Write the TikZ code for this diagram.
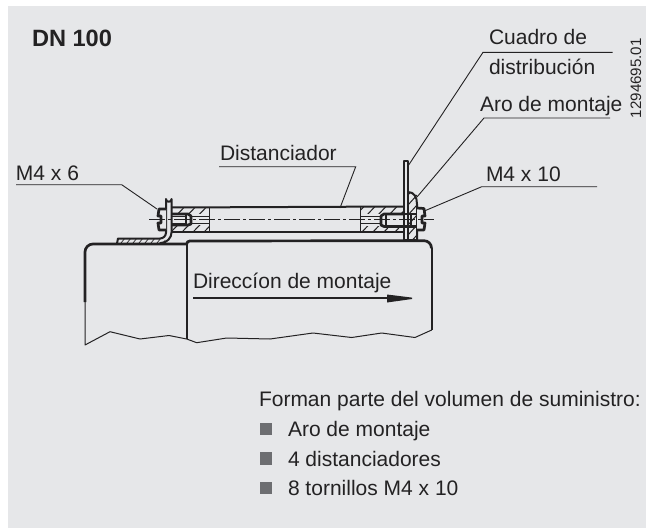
\documentclass[tikz,border=0pt]{standalone}
\usepackage{fontspec}
\setmainfont{Liberation Sans}
\definecolor{bg}{HTML}{E6E7E9}
\definecolor{ink}{HTML}{232223}
\definecolor{bul}{HTML}{6D6E71}
\newcommand{\fs}{\fontsize{21}{24}\selectfont}
\tikzset{
 lbl/.style={anchor=base west,inner sep=0pt,outer sep=0pt,text=ink,font=\fs},
 leader/.style={draw=ink,line width=0.9pt},
 thick line/.style={draw=ink,line width=2.7pt,line join=round},
 med line/.style={draw=ink,line width=2pt,line join=round},
 thin line/.style={draw=ink,line width=1pt,line join=round},
 hatch/.style={draw=ink,line width=1pt},
 bullet/.style={fill=bul,draw=none,minimum width=12.5pt,minimum height=12.5pt,inner sep=0pt,anchor=north west},
}
\begin{document}
\begin{tikzpicture}[x=1pt,y=-1pt]
\useasboundingbox (0,0) rectangle (646,528);
\fill[white] (0,0) rectangle (646,528);
\fill[bg] (8,6) rectangle (646,528);
% bodies
\draw[thin line] (85,302) -- (85,345) -- (110,331.7) -- (140,339) -- (169,335.5) -- (186.7,339) -- (196.7,342.7) -- (226.7,338) -- (270,339) -- (313,333) -- (351.7,337.5) -- (381.7,333) -- (415,337.5) -- (431.7,330);
\draw[thick line] (85,302) -- (85,252) arc[start angle=180,end angle=270,radius=8] -- (186.7,244);
\draw[med line] (186.7,339) -- (186.7,244);
\draw[thick line] (186.7,244) arc[start angle=180,end angle=270,radius=3] -- (424,240.7) arc[start angle=-90,end angle=0,radius=7.5];
\draw[med line] (431.5,248.2) -- (431.5,330);
% left bracket hatching
\begin{scope}
\clip (117,238) rectangle (165,243);
\foreach \x in {115,121,...,170} \draw[hatch,line width=.7pt] (\x,243) -- (\x+4,238);
\end{scope}
% spacer hatching left
\begin{scope}
\clip (172,207.5) rectangle (209,232);
\foreach \x in {160,171,...,230} \draw[hatch] (\x,232) -- (\x+24,207.5);
\fill[bg] (171,214) rectangle (210,225);
\end{scope}
% spacer hatching right
\begin{scope}
\clip (360,206.5) rectangle (403,232);
\foreach \x in {340,351,...,410} \draw[hatch] (\x,232) -- (\x+24,206.5);
\fill[bg] (360,214) rectangle (403,226);
\end{scope}
% ring hatching
\begin{scope}
\clip (408,192) rectangle (417,240);
\foreach \y in {195,205,...,255} \draw[hatch] (408,\y) -- (417,\y-10);
\end{scope}
% spacer lines
\draw[med line] (171,207.5) -- (403,206.5);
\draw[med line] (171,232) -- (403,232);
\draw[thin line] (209,207.5) -- (209,232);
\draw[thin line] (360,206.5) -- (360,232);
% left bracket
\draw[med line] (117,243.5) -- (118,238.5) -- (160,238.5) arc[start angle=90,end angle=0,radius=6] -- (166,199) arc[start angle=180,end angle=0,radius=2.8] -- (171.6,232) arc[start angle=0,end angle=90,radius=11] -- (160,243.5);
% left screw
\draw[thick line,fill=bg] (166,209) -- (159,209) -- (158,216) -- (161,216) -- (161,223) -- (158,223) -- (159,230) -- (166,230);
\draw[thick line] (172,214) -- (188,214) -- (191,216) -- (191,224) -- (188,225) -- (172,225);
\draw[med line] (186,214) -- (186,225);
\draw[thin line] (191,216.5) -- (209,216.5);
\draw[thin line] (191,223) -- (209,223);
\draw[thin line] (171,216) -- (186,216);
\draw[thin line] (171,223) -- (186,223);
% right plate and ring
\draw[med line] (403.5,240) -- (403.5,161) -- (408,161) -- (408,240);
\draw[med line] (408,192) .. controls (414,192) and (417,197) .. (417,204) -- (417,240);
\draw[med line] (403,240) -- (417,240);
% right screw
\draw[thick line] (403,214) -- (384,214) -- (381,216) -- (381,225) -- (384,226.5) -- (417,226.5);
\draw[thick line] (384,214) -- (417,214);
\draw[med line] (386,214) -- (386,226);
\draw[med line] (411,214) -- (411,226);
\draw[thin line] (360,216.5) -- (381,216.5);
\draw[thin line] (360,223.5) -- (381,223.5);
\draw[thick line,fill=bg] (417,208) -- (424,208.5) -- (425,216) -- (422,216) -- (422,223) -- (425,223) -- (424,230) -- (417,230);
% centre line
\draw[thin line,dash pattern=on 16pt off 3pt on 3pt off 3pt] (149,219.5) -- (434,219.5);
% arrow
\coordinate (arrA) at (193,298.3);
\coordinate (arrB) at (387,298.3);
\draw[draw=ink,line width=2.2pt] (arrA) -- (arrB);
\fill[ink] (387,294.5) -- (412,297.6) -- (412,299) -- (387,302.5) -- cycle;
% labels
\node[lbl,font=\bfseries\fontsize{23.6}{26}\selectfont] (dn) at (32,46) {DN 100};
\node[lbl] (cuadro) at (489,44) {Cuadro de};
\node[lbl] (dist) at (489,74) {distribución};
\node[lbl] (aro) at (480,111) {Aro de montaje};
\node[lbl] (m10) at (486,181.7) {M4 x 10};
\node[lbl] (m6) at (16,180) {M4 x 6};
\node[lbl] (dis) at (220,160) {Distanciador};
\node[lbl] (dir) at (193,288) {Direccíon de montaje};
\node[lbl,rotate=90,font=\fontsize{15.1}{18}\selectfont] (num) at (641,118) {1294695.01};
\node[lbl] (forman) at (259,406.7) {Forman parte del volumen de suministro:};
\node[lbl] (i1) at (288,436.7) {Aro de montaje};
\node[lbl] (i2) at (288,466) {4 distanciadores};
\node[lbl] (i3) at (288,495.7) {8 tornillos M4 x 10};
\node[bullet] (b1) at (259.3,422.7) {};
\node[bullet] (b2) at (259.3,452.2) {};
\node[bullet] (b3) at (259.3,481.7) {};
% leaders
\coordinate (c1) at (483,52.3); \coordinate (c1e) at (612.7,52.3); \coordinate (c1t) at (408,166);
\draw[leader] (c1e) -- (c1) -- (c1t);
\coordinate (c2) at (484,118); \coordinate (c2e) at (610,118); \coordinate (c2t) at (417,197);
\draw[leader] (c2e) -- (c2) -- (c2t);
\coordinate (c3) at (481.7,186.7); \coordinate (c3e) at (597,186.7); \coordinate (c3t) at (425,210.7);
\draw[leader] (c3e) -- (c3) -- (c3t);
\coordinate (c4) at (121.7,184.7); \coordinate (c4e) at (16,184.7); \coordinate (c4t) at (157,209);
\draw[leader] (c4e) -- (c4) -- (c4t);
\coordinate (c5) at (355.7,166.7); \coordinate (c5e) at (219,166.7); \coordinate (c5t) at (340,208);
\draw[leader] (c5e) -- (c5) -- (c5t);
\end{tikzpicture}
\end{document}
